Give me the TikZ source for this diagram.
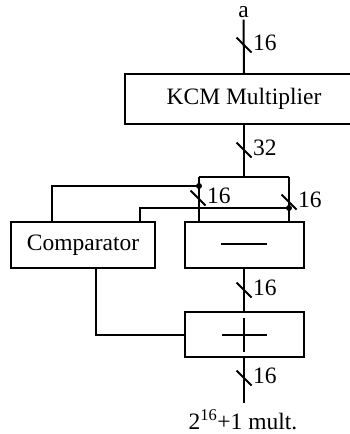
\documentclass[tikz,border=0pt]{standalone}
\usepackage{fontspec}
\setmainfont{Liberation Serif}
\usepackage{tikz}

\tikzset{
  blk/.style={draw, line width=2pt, minimum height=46pt, inner sep=0pt},
  buslbl/.style={anchor=west, inner sep=0pt}
}

\begin{document}
\begin{tikzpicture}[x=1pt, y=-1pt, line width=2pt, font=\fontsize{23.5}{26}\selectfont]
    \clip (0,0) rectangle (350,434);
    % Blocks
    \node[inner sep=0pt] (in) at (243.5,12) {a};
    \node[blk, minimum width=238pt, minimum height=50pt] (kcm) at (244,99) {KCM Multiplier};
    \node[blk, minimum width=144pt] (cmp) at (83,245) {Comparator};
    \node[blk, minimum width=119pt] (sub) at (244,245) {};
    \node[blk, minimum width=119pt, minimum height=45pt] (add) at (244,334.5) {};
    \node[inner sep=0pt] (out) at (243,420) {2\textsuperscript{16}+1 mult.};
    % Signs
    \draw (sub.center) ++(-23,-1) -- ++(46,0);
    \draw (add.center) ++(-22,0) -- ++(45,0);
    \draw (add.center) ++(0,-17) -- ++(0,34);
    % Bus points
    \coordinate (bt) at (244,177);
    \coordinate (bl) at (199,177);
    \coordinate (br) at (289,177);
    \coordinate (dl) at (199,186);
    \coordinate (dr) at (289,208);
    \coordinate (c1) at (52,222);
    \coordinate (c2) at (140,222);
    \coordinate (c3) at (96,335);
    \coordinate (o) at (244,403);
    % Wires
    \draw (in.south) ++(0,1) -- (kcm.north);
    \draw (kcm.south) -- (bt);
    \draw (bl) -- (br);
    \draw (bl) -- (bl |- sub.north);
    \draw (br) -- (br |- sub.north);
    \draw (dl) -| (c1);
    \draw (dr) -| (c2);
    \fill (dl) circle (3);
    \fill (dr) circle (3);
    \draw (c3 |- cmp.south) |- (add.west);
    \draw (sub.south) -- (add.north);
    \draw (add.south) -- (o);
    % Bus widths
    \foreach \x/\y/\w in {244/45/16, 244/150/32, 198/198/16, 289/202/16, 244/290/16, 244/378/16}
      \draw (\x,\y) ++(-7.5,-7.5) -- ++(15,15) (\x,\y) ++(8,-2) node[buslbl] {\w};
\end{tikzpicture}
\end{document}
